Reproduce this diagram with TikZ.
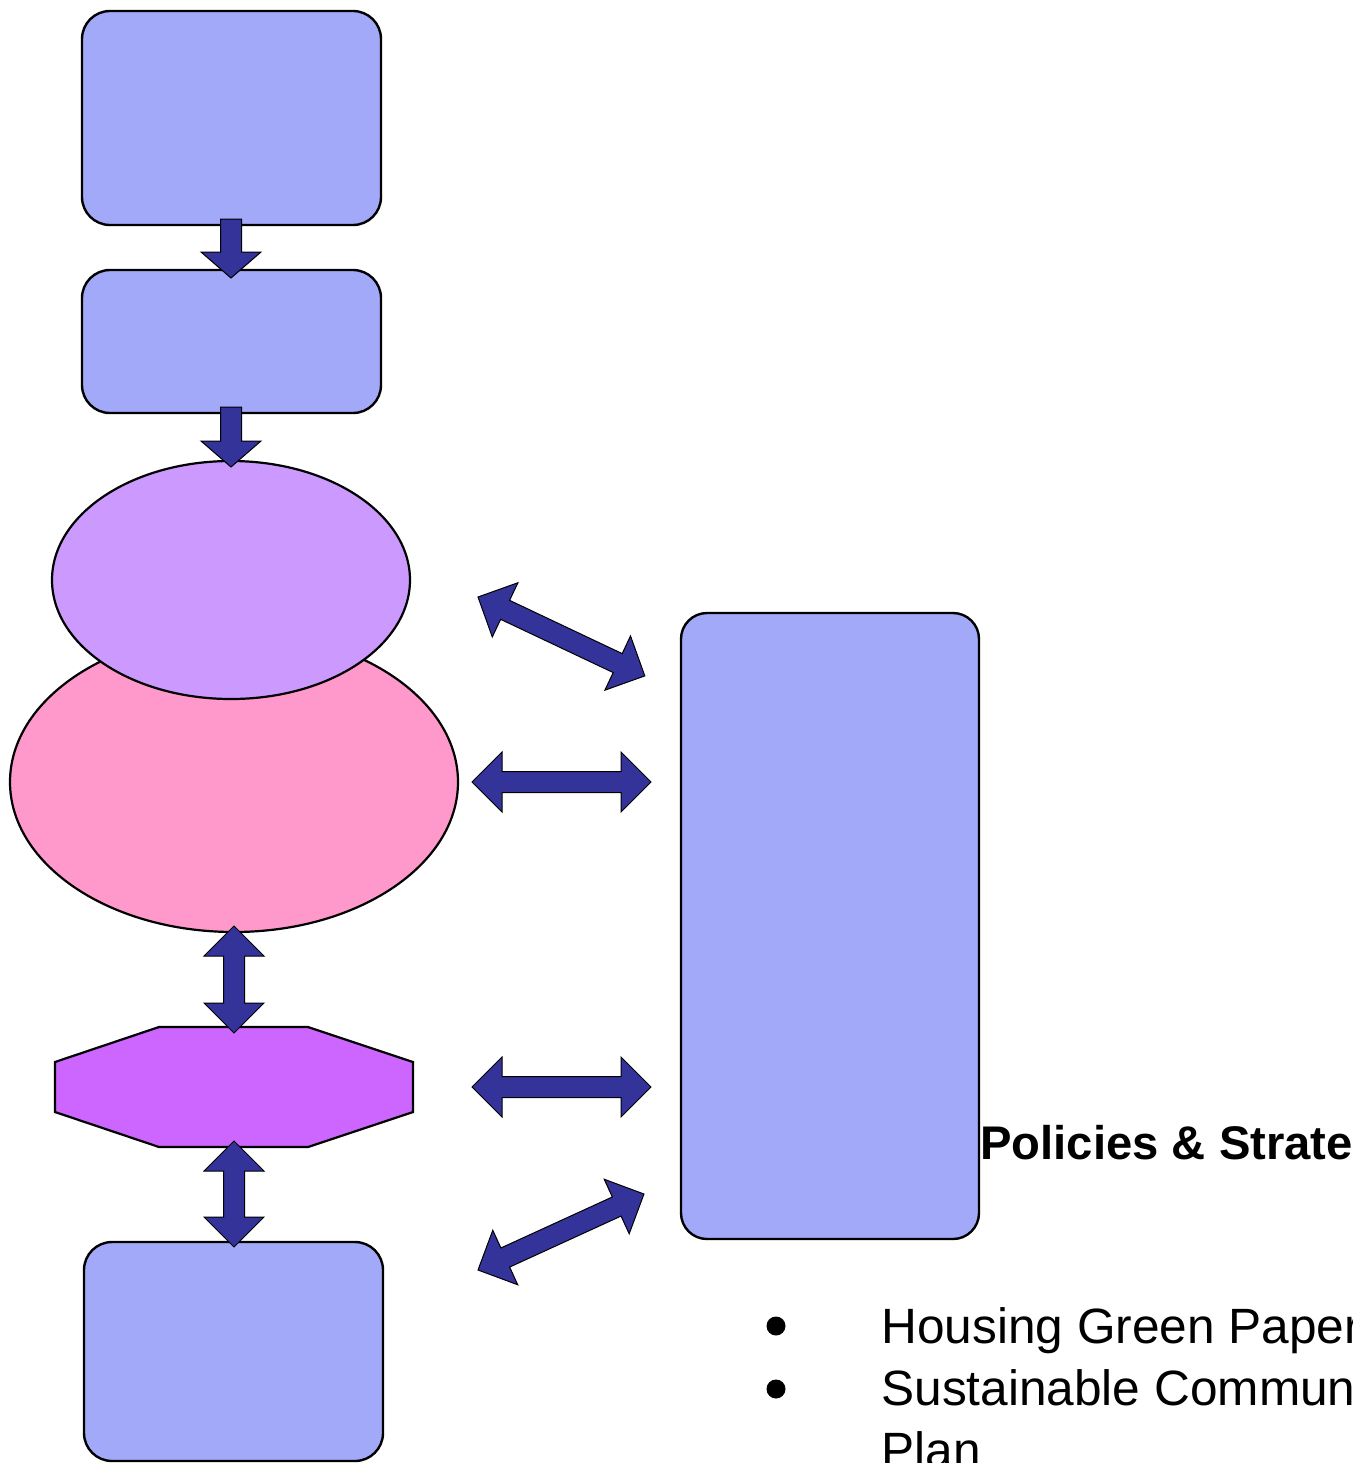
\documentclass[tikz,border=0pt]{standalone}
\usepackage{fontspec}
\setmainfont{Liberation Sans}
\usetikzlibrary{shapes.geometric,calc}
\definecolor{boxblue}{RGB}{163,169,249}
\definecolor{lilac}{RGB}{204,153,255}
\definecolor{pinkfill}{RGB}{255,153,204}
\definecolor{violetfill}{RGB}{204,102,255}
\definecolor{navy}{RGB}{51,51,153}
\tikzset{
  boxnode/.style={draw=black, line width=1.2pt, fill=boxblue, rounded corners=14pt, inner sep=0pt, minimum width=149.5pt},
  ellnode/.style={ellipse, draw=black, line width=1.1pt, inner sep=0pt},
  blockarrow/.style={draw=black, line width=0.5pt, fill=navy, line join=miter},
  bulletdot/.style={circle, fill=black, inner sep=0pt, minimum size=9.5pt},
  itemtext/.style={anchor=base west, inner sep=0pt, font=\fontsize{24.8}{31}\selectfont},
}
\newcommand{\blockdbl}[2]{%
  \path[blockarrow] let \p1=(#1), \p2=(#2),
    \n1={atan2(\y2-\y1,\x2-\x1)}, \n2={veclen(\x2-\x1,\y2-\y1)} in
    [shift={(\p1)}, rotate=\n1]
    (0pt,0pt) -- (15pt,15pt) -- (15pt,5.25pt) -- ({\n2*1pt-15pt},5.25pt)
    -- ({\n2*1pt-15pt},15pt) -- ({\n2*1pt},0pt) -- ({\n2*1pt-15pt},-15pt)
    -- ({\n2*1pt-15pt},-5.25pt) -- (15pt,-5.25pt) -- (15pt,-15pt) -- cycle;}
\newcommand{\blocksgl}[2]{%
  \path[blockarrow] let \p1=(#1), \p2=(#2),
    \n1={atan2(\y2-\y1,\x2-\x1)}, \n2={veclen(\x2-\x1,\y2-\y1)} in
    [shift={(\p1)}, rotate=\n1]
    (0pt,5.25pt) -- ({\n2*1pt-13pt},5.25pt) -- ({\n2*1pt-13pt},15pt)
    -- ({\n2*1pt},0pt) -- ({\n2*1pt-13pt},-15pt) -- ({\n2*1pt-13pt},-5.25pt)
    -- (0pt,-5.25pt) -- cycle;}
\begin{document}
\begin{tikzpicture}[x=0.5pt, y=-0.5pt]
\useasboundingbox (0,0) rectangle (1353,1463);
\clip (0,0) rectangle (1353,1463);

% left column
\node[boxnode, minimum height=107pt] (box1) at (231.5,118) {};
\node[boxnode, minimum height=71.5pt] (box2) at (231.5,341.5) {};
\node[ellnode, fill=pinkfill, minimum width=224pt, minimum height=150pt] (pink) at (234,782) {};
\node[ellnode, fill=lilac, minimum width=179pt, minimum height=119pt] (lilacell) at (231,580) {};
\draw[line width=1.1pt, fill=violetfill]
  (55,1062) -- (159,1027) -- (308,1027) -- (413,1062) -- (413,1112)
  -- (308,1147) -- (159,1147) -- (55,1112) -- cycle;
\coordinate (oct) at (234,1087);
\node[boxnode, minimum height=109.5pt] (box3) at (233.5,1351.5) {};

% right box
\node[boxnode, rounded corners=13pt, minimum width=149pt, minimum height=313pt] (tall) at (830,926) {};

% arrow end points
\coordinate (d1s) at (231,219);  \coordinate (d1e) at (231,278);
\coordinate (d2s) at (231,407);  \coordinate (d2e) at (231,467);
\coordinate (v1s) at (234,926);  \coordinate (v1e) at (234,1033);
\coordinate (v2s) at (234,1141); \coordinate (v2e) at (234,1247);
\coordinate (h1s) at (472,782);  \coordinate (h1e) at (651,782);
\coordinate (h2s) at (472,1087); \coordinate (h2e) at (651,1087);
\coordinate (g1s) at (478,597);  \coordinate (g1e) at (645,676);
\coordinate (g2s) at (478,1270); \coordinate (g2e) at (644,1194);

\blocksgl{d1s}{d1e}
\blocksgl{d2s}{d2e}
\blockdbl{v1s}{v1e}
\blockdbl{v2s}{v2e}
\blockdbl{h1s}{h1e}
\blockdbl{h2s}{h2e}
\blockdbl{g1s}{g1e}
\blockdbl{g2s}{g2e}

% texts
\node[anchor=base west, inner sep=0pt, font=\bfseries\fontsize{23.6}{30}\selectfont] (pol) at (980,1159) {Policies \& Strategies};
\node[bulletdot] (b1) at (776,1326) {};
\node[bulletdot] (b2) at (776,1389) {};
\node[itemtext] (t1) at (881,1343) {Housing Green Paper};
\node[itemtext] (t2) at (881,1405) {Sustainable Communities};
\node[itemtext] (t3) at (881,1467) {Plan};
\end{tikzpicture}
\end{document}
